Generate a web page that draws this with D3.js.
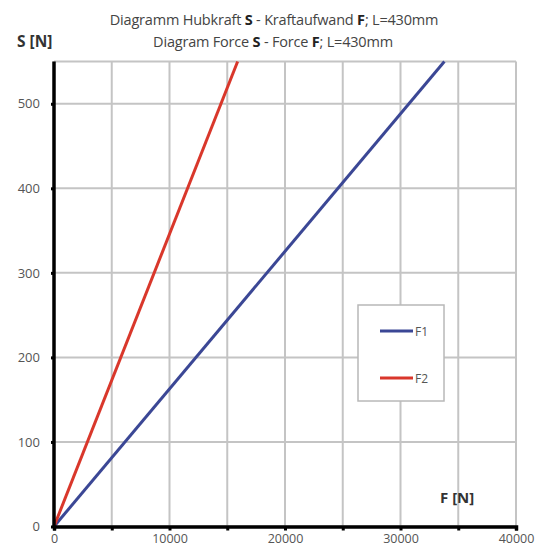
<!DOCTYPE html>
<html>
<head>
<meta charset="utf-8">
<script src="https://cdn.jsdelivr.net/npm/d3@7"></script>
<style>
body { margin: 0; background: #fff; }
svg text { font-family: "Open Sans", "Noto Sans", sans-serif; }
</style>
</head>
<body>
<div id="chart"></div>
<script>
// values: lifting force S against force applied F
const loadS = [0, 550];
const forceF1 = [0, 33800];
const forceF2 = [0, 15900];
const yTicks = [0, 100, 200, 300, 400, 500];
const xTicks = [0, 10000, 20000, 30000, 40000];
const xGrid = [0, 5000, 10000, 15000, 20000, 25000, 30000, 35000, 40000];
const seriesNames = ["F1", "F2"];
const seriesColors = ["#3b4795", "#d9372b"];

const svg = d3.select("#chart")
    .append("svg")
    .attr("width", 547)
    .attr("height", 548);

const x = d3.scaleLinear().domain([0, 40000]).range([54, 516]);
const y = d3.scaleLinear().domain([0, 550]).range([526.5, 61.5]);

// grid
svg.append("g")
    .selectAll("line")
    .data(xGrid)
    .join("line")
    .attr("x1", d => x(d)).attr("x2", d => x(d))
    .attr("y1", y(0)).attr("y2", y(550))
    .attr("stroke", "#c4c4c4")
    .attr("stroke-width", 2);

svg.append("g")
    .selectAll("line")
    .data(yTicks.concat([550]))
    .join("line")
    .attr("x1", x(0)).attr("x2", x(40000))
    .attr("y1", d => y(d)).attr("y2", d => y(d))
    .attr("stroke", "#c4c4c4")
    .attr("stroke-width", 2);

// data lines
const series = [forceF1, forceF2];
const line = d3.line()
    .x(d => x(d[0]))
    .y(d => y(d[1]));

series.forEach(function (vals, i) {
    svg.append("path")
        .datum(vals.map((f, j) => [f, loadS[j]]))
        .attr("fill", "none")
        .attr("stroke", seriesColors[i])
        .attr("stroke-width", 3)
        .attr("d", line);
});

// axes
const xAxis = svg.append("g")
    .attr("transform", "translate(0," + y(0) + ")")
    .call(d3.axisBottom(x).tickValues(xGrid).tickSize(4).tickPadding(3)
        .tickFormat(d => xTicks.includes(d) ? d : ""));
xAxis.select(".domain").attr("stroke", "#000").attr("stroke-width", 3.5);
xAxis.selectAll(".tick line").attr("stroke", "#000").attr("stroke-width", 3);
xAxis.selectAll(".tick text")
    .attr("font-size", 12.5).attr("fill", "#555").attr("dy", "0.78em");

const yAxis = svg.append("g")
    .attr("transform", "translate(" + x(0) + ",0)")
    .call(d3.axisLeft(y).tickValues(yTicks).tickSize(3).tickPadding(11));
yAxis.select(".domain").attr("stroke", "#000").attr("stroke-width", 3.5)
    .attr("d", "M0," + y(0) + "V" + y(550));
yAxis.selectAll(".tick line").attr("stroke", "#000").attr("stroke-width", 3);
yAxis.selectAll(".tick text").attr("font-size", 13).attr("fill", "#555");

// titles
svg.append("text")
    .attr("x", 274).attr("y", 25)
    .attr("text-anchor", "middle")
    .attr("font-size", 14.5).attr("fill", "#444").attr("letter-spacing", -0.2)
    .html('Diagramm Hubkraft <tspan font-weight="bold" fill="#222">S</tspan> - Kraftaufwand <tspan font-weight="bold" fill="#222">F</tspan>; L=430mm');
svg.append("text")
    .attr("x", 273).attr("y", 47)
    .attr("text-anchor", "middle")
    .attr("font-size", 14.5).attr("fill", "#444").attr("letter-spacing", -0.2)
    .html('Diagram Force <tspan font-weight="bold" fill="#222">S</tspan> - Force <tspan font-weight="bold" fill="#222">F</tspan>; L=430mm');

svg.append("text")
    .attr("x", 17).attr("y", 47)
    .attr("font-size", 15.5).attr("font-weight", "bold").attr("fill", "#333")
    .text("S [N]");
svg.append("text")
    .attr("x", 440).attr("y", 503)
    .attr("font-size", 15).attr("font-weight", "bold").attr("fill", "#333")
    .text("F [N]");

// legend
const legend = svg.append("g");
legend.append("rect")
    .attr("x", 358).attr("y", 305)
    .attr("width", 86).attr("height", 96)
    .attr("fill", "#fff")
    .attr("stroke", "#b8b8b8")
    .attr("stroke-width", 1.5);
seriesNames.forEach(function (name, i) {
    const ly = 331 + i * 47;
    legend.append("line")
        .attr("x1", 380).attr("x2", 413)
        .attr("y1", ly).attr("y2", ly)
        .attr("stroke", seriesColors[i])
        .attr("stroke-width", 3);
    legend.append("text")
        .attr("x", 415).attr("y", ly + 4.5)
        .attr("font-size", 12).attr("fill", "#555")
        .text(name);
});
</script>
</body>
</html>
